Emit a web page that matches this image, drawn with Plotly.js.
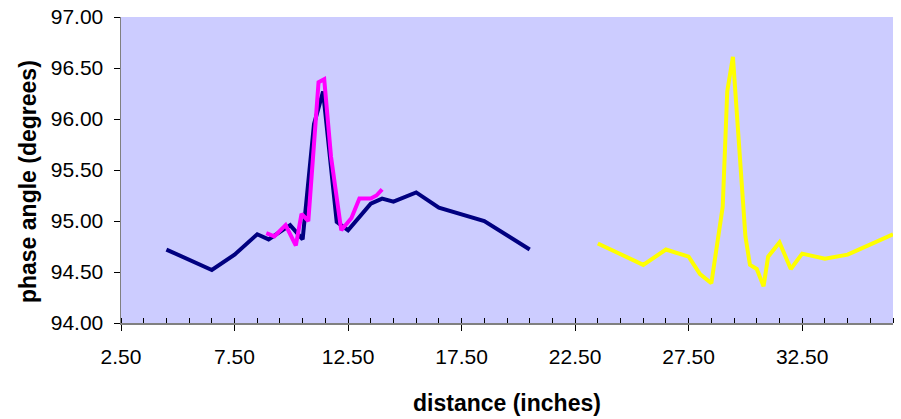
<!DOCTYPE html>
<html>
<head>
<meta charset="utf-8">
<script src="https://cdn.plot.ly/plotly-3.0.1.min.js"></script>
<style>html,body{margin:0;padding:0;background:#fff;}#chart{width:901px;height:419px;}</style>
</head>
<body>
<div id="chart"></div>
<script>
// Series 1 (navy)
const navyX = [4.5, 6.5, 7.5, 8.5, 9.0, 9.95, 10.5, 11.0, 11.4, 12.0, 12.5, 13.5, 14.0, 14.5, 15.5, 16.5, 18.5, 20.5];
const navyY = [94.72, 94.52, 94.67, 94.87, 94.82, 94.96, 94.82, 95.95, 96.27, 94.99, 94.91, 95.17, 95.22, 95.19, 95.28, 95.13, 95.00, 94.72];
// Series 2 (magenta)
const pinkX = [8.9, 9.25, 9.75, 10.2, 10.45, 10.75, 11.2, 11.45, 11.75, 12.2, 12.65, 13.0, 13.5, 13.75, 14.0];
const pinkY = [94.88, 94.85, 94.96, 94.76, 95.07, 95.00, 96.36, 96.39, 95.63, 94.91, 95.03, 95.22, 95.22, 95.25, 95.31];
// Series 3 (yellow)
const yellowX = [23.5, 25.5, 26.5, 27.5, 28.0, 28.5, 29.0, 29.2, 29.45, 30.0, 30.2, 30.5, 30.8, 31.0, 31.5, 32.0, 32.5, 33.5, 34.5, 36.5];
const yellowY = [94.78, 94.57, 94.72, 94.65, 94.48, 94.39, 95.14, 96.27, 96.61, 94.85, 94.57, 94.53, 94.36, 94.65, 94.79, 94.53, 94.68, 94.63, 94.67, 94.87];

const xTitle = 'distance (inches)';
const yTitle = 'phase angle (degrees)';

const FONT = 'Liberation Sans, Arial, sans-serif';

const traces = [
  {x: navyX, y: navyY, type: 'scatter', mode: 'lines', line: {color: '#000080', width: 4}},
  {x: pinkX, y: pinkY, type: 'scatter', mode: 'lines', line: {color: '#FF00FF', width: 4}},
  {x: yellowX, y: yellowY, type: 'scatter', mode: 'lines', line: {color: '#FFFF00', width: 4}}
];

const L = 120.5, R = 893, T = 17, B = 323;
const px2x = p => (p - L) / (R - L);
const px2y = p => (B - p) / (B - T);

const layout = {
  width: 901, height: 419,
  margin: {l: L, r: 901 - R, t: T, b: 419 - B, pad: 0},
  paper_bgcolor: '#FFFFFF',
  plot_bgcolor: '#CCCCFF',
  showlegend: false,
  font: {family: FONT, color: '#000000', size: 21},
  xaxis: {
    range: [2.5, 36.5], tick0: 2.5, dtick: 5, tickformat: '.2f',
    showgrid: false, zeroline: false,
    showline: true, linecolor: '#808080', linewidth: 1.5,
    ticks: 'outside', ticklen: 6, tickcolor: '#000000', tickwidth: 1,
    ticklabelstandoff: 8,
    minor: {dtick: 1, tick0: 2.5, ticks: 'inside', ticklen: 5, tickcolor: '#000000', tickwidth: 1, showgrid: false},
    tickfont: {family: FONT, size: 21, color: '#000000'},
    automargin: false
  },
  yaxis: {
    range: [94, 97], tick0: 94, dtick: 0.5, tickformat: '.2f',
    showgrid: false, zeroline: false,
    showline: true, linecolor: '#808080', linewidth: 1.5,
    ticks: 'outside', ticklen: 6, tickcolor: '#000000', tickwidth: 1,
    ticklabelstandoff: 6,
    tickfont: {family: FONT, size: 21, color: '#000000'},
    automargin: false
  },
  annotations: [
    {text: xTitle, xref: 'paper', yref: 'paper', x: px2x(506.5), y: px2y(403),
     xanchor: 'center', yanchor: 'middle', showarrow: false,
     font: {family: FONT, size: 23, color: '#000000', weight: 'bold'}},
    {text: yTitle, xref: 'paper', yref: 'paper', x: px2x(27), y: px2y(181.5),
     xanchor: 'center', yanchor: 'middle', showarrow: false, textangle: -90,
     font: {family: FONT, size: 23, color: '#000000', weight: 'bold'}}
  ]
};

Plotly.newPlot('chart', traces, layout, {staticPlot: true, displayModeBar: false});
</script>
</body>
</html>
